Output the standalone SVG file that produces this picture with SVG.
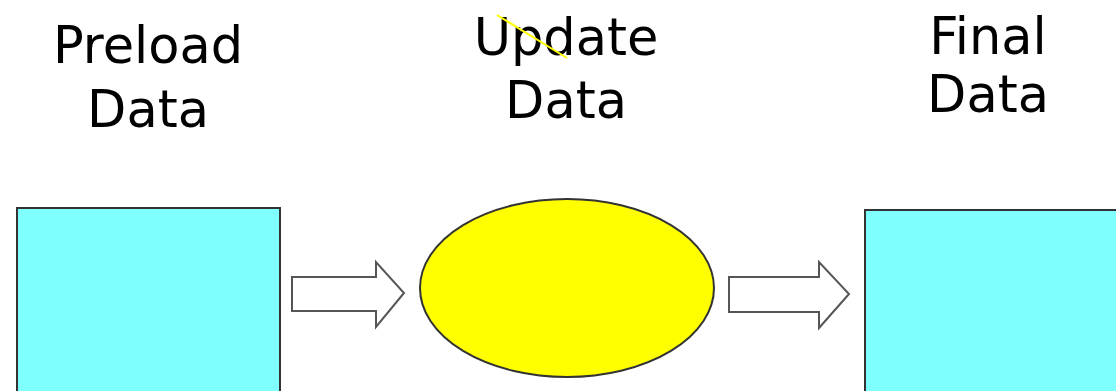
<svg xmlns="http://www.w3.org/2000/svg" width="1116" height="391" viewBox="0 0 1116 391">
<style>
.lbl{font-family:"DejaVu Sans","Liberation Sans",sans-serif;font-size:51px;fill:#000;text-anchor:middle}
.box{fill:#80ffff;stroke:#333;stroke-width:2}
.arr{fill:#fff;stroke:#555;stroke-width:2;stroke-linejoin:miter}
</style>
<rect width="1116" height="391" fill="#fff"/>
<g id="preload">
<rect class="box" x="17" y="208" width="263" height="200"/>
<text class="lbl" x="148" y="63">Preload</text>
<text class="lbl" x="148" y="127">Data</text>
</g>
<g id="update">
<ellipse cx="567" cy="288" rx="147" ry="89" fill="#ffff00" stroke="#333" stroke-width="2"/>
<text class="lbl" x="566" y="55">Update</text>
<text class="lbl" x="566" y="118">Data</text>
<line x1="497" y1="15" x2="567" y2="58" stroke="#ffff00" stroke-width="2"/>
</g>
<g id="final">
<rect class="box" x="865" y="210" width="270" height="200"/>
<text class="lbl" x="988" y="54">Final</text>
<text class="lbl" x="988" y="112">Data</text>
</g>
<g id="connectors">
<polygon class="arr" points="292,277 376,277 376,262 404,293 376,327 376,311 292,311"/>
<polygon class="arr" points="729,277 819,277 819,262 849,294 819,328 819,312 729,312"/>
</g>
</svg>
